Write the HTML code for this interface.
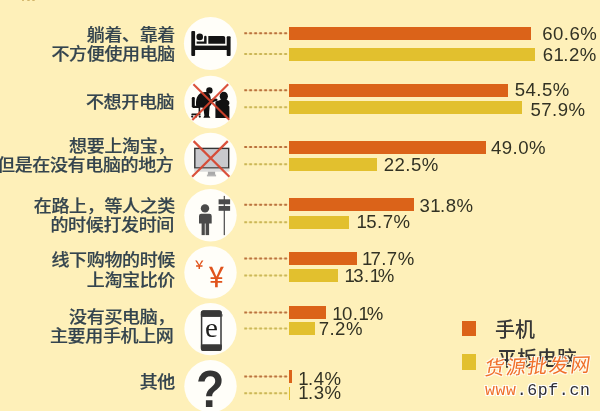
<!DOCTYPE html>
<html><head><meta charset="utf-8"><style>
*{margin:0;padding:0;box-sizing:border-box}
html,body{width:600px;height:411px;overflow:hidden;background:#fef0b9}
body{position:relative;font-family:"Liberation Sans","Noto Sans CJK SC",sans-serif}
.lab{position:absolute;right:425px;text-align:right;color:#34444e;font-family:"Liberation Sans","Noto Sans CJK SC",sans-serif;font-size:18.0px;line-height:18.0px;letter-spacing:-0.35px;font-weight:500;-webkit-text-stroke:0.2px #34444e;white-space:nowrap;transform-origin:100% 0;transform:scaleY(0.93)}
.bar{position:absolute;height:13px}
.o{background:#db6319}
.y{background:#e2c02e}
.val{position:absolute;font-family:"Liberation Sans",sans-serif;font-size:18.6px;line-height:20px;letter-spacing:0.45px;color:#323224;white-space:nowrap}
.n1{letter-spacing:-0.6px}
svg{position:absolute;left:0;top:0}
</style></head><body>

<svg width="600" height="411" viewBox="0 0 600 411">
<circle cx="210.5" cy="43.5" r="26.6" fill="#fffef9"/>
<circle cx="210.5" cy="102.1" r="26.3" fill="#fffef9"/>
<circle cx="210.5" cy="159.0" r="26.3" fill="#fffef9"/>
<circle cx="210.5" cy="215.2" r="26.2" fill="#fffef9"/>
<circle cx="210.5" cy="272.5" r="26.2" fill="#fffef9"/>
<circle cx="210.5" cy="329.2" r="26.1" fill="#fffef9"/>
<circle cx="210.5" cy="386.2" r="26.2" fill="#fffef9"/>
<line x1="245" y1="33.3" x2="288" y2="33.3" stroke="#f3cf9a" stroke-width="1"/>
<line x1="244.3" y1="33.3" x2="288" y2="33.3" stroke="#b8703a" stroke-width="2" stroke-dasharray="2.6 2.4"/>
<line x1="245" y1="54.1" x2="288" y2="54.1" stroke="#f5e39a" stroke-width="1"/>
<line x1="244.3" y1="54.1" x2="288" y2="54.1" stroke="#cab656" stroke-width="2" stroke-dasharray="2.6 2.4"/>
<line x1="245" y1="90.3" x2="288" y2="90.3" stroke="#f3cf9a" stroke-width="1"/>
<line x1="244.3" y1="90.3" x2="288" y2="90.3" stroke="#b8703a" stroke-width="2" stroke-dasharray="2.6 2.4"/>
<line x1="245" y1="107.2" x2="288" y2="107.2" stroke="#f5e39a" stroke-width="1"/>
<line x1="244.3" y1="107.2" x2="288" y2="107.2" stroke="#cab656" stroke-width="2" stroke-dasharray="2.6 2.4"/>
<line x1="245" y1="147.1" x2="288" y2="147.1" stroke="#f3cf9a" stroke-width="1"/>
<line x1="244.3" y1="147.1" x2="288" y2="147.1" stroke="#b8703a" stroke-width="2" stroke-dasharray="2.6 2.4"/>
<line x1="245" y1="164.2" x2="288" y2="164.2" stroke="#f5e39a" stroke-width="1"/>
<line x1="244.3" y1="164.2" x2="288" y2="164.2" stroke="#cab656" stroke-width="2" stroke-dasharray="2.6 2.4"/>
<line x1="245" y1="204.7" x2="288" y2="204.7" stroke="#f3cf9a" stroke-width="1"/>
<line x1="244.3" y1="204.7" x2="288" y2="204.7" stroke="#b8703a" stroke-width="2" stroke-dasharray="2.6 2.4"/>
<line x1="245" y1="222.2" x2="288" y2="222.2" stroke="#f5e39a" stroke-width="1"/>
<line x1="244.3" y1="222.2" x2="288" y2="222.2" stroke="#cab656" stroke-width="2" stroke-dasharray="2.6 2.4"/>
<line x1="245" y1="258.6" x2="288" y2="258.6" stroke="#f3cf9a" stroke-width="1"/>
<line x1="244.3" y1="258.6" x2="288" y2="258.6" stroke="#b8703a" stroke-width="2" stroke-dasharray="2.6 2.4"/>
<line x1="245" y1="275.4" x2="288" y2="275.4" stroke="#f5e39a" stroke-width="1"/>
<line x1="244.3" y1="275.4" x2="288" y2="275.4" stroke="#cab656" stroke-width="2" stroke-dasharray="2.6 2.4"/>
<line x1="245" y1="312.5" x2="288" y2="312.5" stroke="#f3cf9a" stroke-width="1"/>
<line x1="244.3" y1="312.5" x2="288" y2="312.5" stroke="#b8703a" stroke-width="2" stroke-dasharray="2.6 2.4"/>
<line x1="245" y1="328.5" x2="288" y2="328.5" stroke="#f5e39a" stroke-width="1"/>
<line x1="244.3" y1="328.5" x2="288" y2="328.5" stroke="#cab656" stroke-width="2" stroke-dasharray="2.6 2.4"/>
<line x1="245" y1="376.5" x2="288" y2="376.5" stroke="#f3cf9a" stroke-width="1"/>
<line x1="244.3" y1="376.5" x2="288" y2="376.5" stroke="#b8703a" stroke-width="2" stroke-dasharray="2.6 2.4"/>
<line x1="245" y1="393.2" x2="288" y2="393.2" stroke="#f5e39a" stroke-width="1"/>
<line x1="244.3" y1="393.2" x2="288" y2="393.2" stroke="#cab656" stroke-width="2" stroke-dasharray="2.6 2.4"/>
<g fill="#141414">
<rect x="191.3" y="31.1" width="3.8" height="24.8" rx="1"/>
<rect x="226.7" y="36.3" width="3.9" height="19.6" rx="1"/>
<rect x="194" y="45.6" width="34" height="4.4"/>
<circle cx="199.7" cy="36.9" r="3.3"/>
<path d="M196.6 41.6 H204.1 V37 a1.2 1.2 0 0 1 2.5 0 V43.8 H196.6 Z"/>
<path d="M208.3 35.9 H223.4 a1.8 1.8 0 0 1 1.8 1.8 V43.8 H208.3 Z"/>
</g>
<g fill="#111">
<circle cx="209.4" cy="90.4" r="3.2"/>
<path d="M207.5 92.2 C204 91.4 200.5 92.4 198.4 95 C196.4 97.4 195.8 101 196 104.5 L196.4 107.6 L207.5 107.8 L210.5 105.5 L212.5 102.5 L216.8 100.6 L216.6 98.6 L212.4 98.8 L210.8 99.4 C210.8 96.6 210 94 207.5 92.2 Z"/>
<path d="M202.5 106.5 L209.8 105.6 L209.2 111.5 L209 115.8 L210.4 117.8 L203.4 117.8 L204.4 115.6 L203.8 111.2 Z"/>
<rect x="191.8" y="97.1" width="3" height="10.5" rx="1.2"/>
<rect x="193" y="105.8" width="7" height="2.2"/>
<rect x="198.6" y="107.8" width="1.6" height="6.2"/>
<rect x="191.3" y="113.6" width="9.2" height="1.7" rx="0.8"/>
<circle cx="192.2" cy="116.6" r="1.1"/><circle cx="196" cy="116.6" r="1.1"/><circle cx="199.8" cy="116.6" r="1.1"/>
<ellipse cx="223.8" cy="96.3" rx="4.1" ry="4.6"/>
<path d="M221 99.6 L226.8 99.6 L229.2 101.6 L229.4 104 L228.4 105.2 L229.4 106.6 L229.4 118 L215.4 118 L215.4 101.6 L219 100.4 Z"/>
<rect x="212.4" y="99" width="5" height="1.8"/>
</g>
<g stroke="#d8432c" stroke-width="2.1" stroke-linecap="butt" opacity="0.92"><line x1="193.4" y1="84.3" x2="229.3" y2="119.7"/><line x1="228.2" y1="84.3" x2="192.3" y2="119.9"/></g>
<rect x="194.8" y="148.4" width="33.9" height="19.6" fill="#c9c9cd" stroke="#333" stroke-width="1.4"/>
<rect x="194.1" y="168.6" width="35.3" height="3.1" fill="#dcdcdc"/>
<rect x="207.9" y="171.7" width="7.2" height="3.6" fill="#a9a9a9"/>
<rect x="206.9" y="174.6" width="9.2" height="1.8" fill="#b5b5b5"/>
<g stroke="#d8432c" stroke-width="2.2" opacity="0.92"><line x1="193.6" y1="141.1" x2="229.4" y2="176.8"/><line x1="227.8" y1="141.1" x2="192.1" y2="176.8"/></g>
<g fill="#4a4a4a">
<circle cx="205" cy="208.4" r="4.2"/>
<path d="M199 216 a2.2 2.2 0 0 1 2.2 -2.2 H209.5 a2.2 2.2 0 0 1 2.2 2.2 V223.4 H199 Z"/>
<rect x="201.6" y="223" width="3.2" height="12.1"/>
<rect x="205.6" y="223" width="3.5" height="12.1"/>
<rect x="223.7" y="195.9" width="1.2" height="39.2"/>
<rect x="218.6" y="199.3" width="11.5" height="5"/>
<rect x="218.6" y="206" width="11.5" height="4.8"/>
</g>
<rect x="201.6" y="311.1" width="19.4" height="39.2" rx="2" fill="#fff" stroke="#383838" stroke-width="1.5"/>
<rect x="200.9" y="310.4" width="20.8" height="6.3" rx="2.2" fill="#383838"/>
<rect x="200.9" y="344.5" width="20.8" height="6.5" rx="2.2" fill="#383838"/>
<rect x="200.9" y="314" width="20.8" height="2.7" fill="#383838"/>
<rect x="200.9" y="344.5" width="20.8" height="2.7" fill="#383838"/>
<rect x="221.5" y="314.2" width="1" height="2.3" fill="#555"/>
</svg>
<div style="position:absolute;left:205.0px;top:312.8px;font-family:'Liberation Serif',serif;font-size:27px;line-height:30px;color:#1e1e1e;transform-origin:0 0;transform:scaleX(1.08)">e</div>
<div style="position:absolute;left:205.3px;top:261.7px;font-family:'Noto Sans CJK SC',sans-serif;font-weight:500;font-size:27.5px;line-height:1;color:#e0531c;transform-origin:0 0;transform:scale(0.830,1.005)">￥</div>
<div style="position:absolute;left:193.4px;top:258.0px;font-family:'Noto Sans CJK SC',sans-serif;font-weight:500;font-size:12.0px;line-height:1;color:#e0531c;transform-origin:0 0;transform:scale(1.050,0.980)">￥</div>
<div style="position:absolute;left:196.0px;top:362.3px;font-family:'Liberation Sans',sans-serif;font-weight:bold;font-size:48.5px;line-height:50px;color:#333;transform-origin:0 0;transform:scale(0.955,1.08)">?</div>
<div class="bar o" style="left:288.5px;top:26.8px;width:242.5px"></div>
<div class="bar y" style="left:288.5px;top:47.6px;width:246.0px"></div>
<div class="lab" style="top:26.60px">躺着、靠着</div>
<div class="lab" style="top:46.40px">不方便使用电脑</div>
<div class="bar o" style="left:288.5px;top:83.8px;width:219.9px"></div>
<div class="bar y" style="left:288.5px;top:100.7px;width:233.9px"></div>
<div class="lab" style="top:94.00px;right:425.8px">不想开电脑</div>
<div class="bar o" style="left:288.5px;top:140.6px;width:197.1px"></div>
<div class="bar y" style="left:288.5px;top:157.7px;width:88.5px"></div>
<div class="lab" style="top:138.00px">想要上淘宝，</div>
<div class="lab" style="top:157.20px;right:426.5px">但是在没有电脑的地方</div>
<div class="bar o" style="left:288.5px;top:198.2px;width:125.8px"></div>
<div class="bar y" style="left:288.5px;top:215.7px;width:60.1px"></div>
<div class="lab" style="top:197.60px">在路上，等人之类</div>
<div class="lab" style="top:216.50px;right:426.0px">的时候打发时间</div>
<div class="bar o" style="left:288.5px;top:252.1px;width:68.9px"></div>
<div class="bar y" style="left:288.5px;top:268.9px;width:49.5px"></div>
<div class="lab" style="top:252.30px">线下购物的时候</div>
<div class="lab" style="top:271.90px">上淘宝比价</div>
<div class="bar o" style="left:288.5px;top:306.0px;width:37.3px"></div>
<div class="bar y" style="left:288.5px;top:322.0px;width:26.5px"></div>
<div class="lab" style="top:309.30px">没有买电脑，</div>
<div class="lab" style="top:327.90px;right:426.5px">主要用手机上网</div>
<div class="bar o" style="left:288.5px;top:370.0px;width:3.2px"></div>
<div class="bar y" style="left:288.5px;top:386.7px;width:1.5px"></div>
<div class="lab" style="top:374.10px">其他</div>
<div class="val" style="left:542.20px;top:23.90px">60.6%</div>
<div class="val" style="left:542.75px;top:45.10px">6<span class="n1">1</span>.2%</div>
<div class="val" style="left:514.75px;top:80.25px">54.5%</div>
<div class="val" style="left:530.50px;top:99.50px">57.9%</div>
<div class="val" style="left:491.00px;top:137.70px">49.0%</div>
<div class="val" style="left:383.70px;top:154.90px">22.5%</div>
<div class="val" style="left:419.50px;top:195.50px">3<span class="n1">1</span>.8%</div>
<div class="val" style="left:356.50px;top:212.30px"><span class="n1">1</span>5.7%</div>
<div class="val" style="left:362.00px;top:248.90px"><span style="letter-spacing:-1.9px">1</span>7.7%</div>
<div class="val" style="left:344.50px;top:266.10px"><span style="letter-spacing:-1.6px">1</span>3.<span style="letter-spacing:-2.2px">1</span>%</div>
<div class="val" style="left:332.30px;top:303.70px"><span class="n1">1</span>0.<span style="letter-spacing:-2.2px">1</span>%</div>
<div class="val" style="left:318.70px;top:318.70px">7.2%</div>
<div class="val" style="left:298.30px;top:369.30px"><span class="n1">1</span>.4%</div>
<div class="val" style="left:298.30px;top:383.00px"><span class="n1">1</span>.3%</div>

<div style="position:absolute;left:462px;top:321.3px;width:14.3px;height:15px;background:#db6319"></div>
<div style="position:absolute;left:462px;top:354px;width:14.3px;height:16px;background:#e2c02e"></div>
<div style="position:absolute;left:495px;top:318.0px;font-family:'Liberation Sans','Noto Sans CJK SC',sans-serif;font-size:20px;line-height:24px;font-weight:500;color:#363636">手机</div>
<div style="position:absolute;left:497px;top:347.2px;font-family:'Liberation Sans','Noto Sans CJK SC',sans-serif;font-size:20px;line-height:24px;font-weight:500;color:#363636">平板电脑</div>
<div style="position:absolute;left:485px;top:357.0px;font-family:'Liberation Sans','Noto Sans CJK SC',sans-serif;font-size:19.5px;line-height:22px;font-weight:400;letter-spacing:1.8px;color:#f0702a;transform:skewX(-10deg) rotate(-2deg);transform-origin:0 50%;text-shadow:1px 1px 0 #fffaf0,-1px -1px 0 #fffaf0,1px -1px 0 #fffaf0,-1px 1px 0 #fffaf0">货源批发网</div>
<div style="position:absolute;left:485px;top:381.0px;font-family:'Liberation Mono',monospace;font-size:16.5px;line-height:20px;letter-spacing:0.65px;color:#2e2e36;text-shadow:1px 1px 0 #fff,-1px -1px 0 #fff,1px -1px 0 #fff,-1px 1px 0 #fff"><span style="color:#f0702a">www</span>.6pf.cn</div>
<div style="position:absolute;left:21.8px;top:-1px;width:2.6px;height:2.2px;background:#d2b56a;border-radius:50%"></div><div style="position:absolute;left:27px;top:-1px;width:2.6px;height:2.2px;background:#d2b56a;border-radius:50%"></div><div style="position:absolute;left:32.2px;top:-1px;width:2.6px;height:2.2px;background:#d2b56a;border-radius:50%"></div>

</body></html>
